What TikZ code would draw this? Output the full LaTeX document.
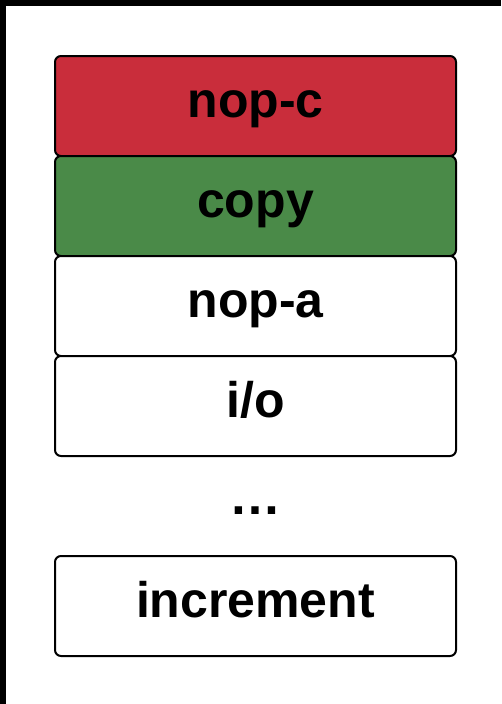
\documentclass[tikz,border=0pt]{standalone}
\usepackage{fontspec}
\setmainfont{Liberation Sans}
\definecolor{boxred}{RGB}{201,45,59}
\definecolor{boxgreen}{RGB}{74,138,72}
\begin{document}
\begin{tikzpicture}[x=1pt,y=-1pt,
  cell/.style={draw=black, line width=2pt, rounded corners=6pt,
    minimum width=401pt, minimum height=100pt, inner sep=0pt,
    text height=38pt, text depth=15pt,
    font=\fontsize{50}{54}\selectfont\bfseries},
  lbl/.style={inner sep=0pt, font=\fontsize{52}{56}\selectfont\bfseries}]
\useasboundingbox (0,0) rectangle (501,704);
\fill[white] (0,0) rectangle (501,704);
\fill[black] (0,0) rectangle (501,6);
\fill[black] (0,0) rectangle (6,704);
\node[cell, fill=boxred]   (nopc) at (255.5,106) {nop-c};
\node[cell, fill=boxgreen] (copy) at (255.5,206) {copy};
\node[cell, fill=white]    (nopa) at (255.5,306) {nop-a};
\node[cell, fill=white]    (io)   at (255.5,406) {i/o};
\node[lbl, anchor=base]    (dots) at (255.5,514) {…};
\node[cell, fill=white]    (inc)  at (255.5,606) {increment};
\end{tikzpicture}
\end{document}
